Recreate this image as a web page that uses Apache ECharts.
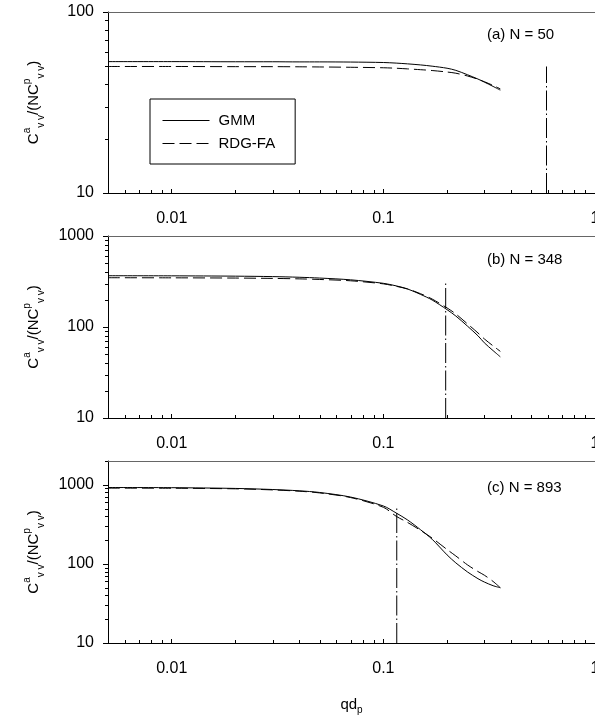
<!DOCTYPE html>
<html>
<head>
<meta charset="utf-8">
<script src="https://cdn.jsdelivr.net/npm/echarts@6/dist/echarts.min.js"></script>
<style>
html,body{margin:0;padding:0;background:#fff;}
#chart{width:595px;height:723px;}
</style>
</head>
<body>
<div id="chart"></div>
<script>
// ---- data ----
const qd = [0.005, 0.01, 0.02, 0.03, 0.04, 0.05, 0.07, 0.1, 0.115, 0.13, 0.15, 0.17, 0.2, 0.22, 0.25, 0.28, 0.3, 0.33, 0.357];

const gmmA = [53.2, 53.2, 53.1, 53.1, 53.0, 53.0, 52.9, 52.6, 52.2, 51.7, 51.0, 50.2, 48.9, 47.6, 45.0, 42.6, 41.0, 38.8, 37.0];
const rdgA = [50.0, 50.0, 49.9, 49.9, 49.8, 49.7, 49.5, 49.2, 48.9, 48.5, 48.0, 47.5, 46.6, 45.9, 44.3, 42.5, 41.2, 39.3, 37.6];

const gmmB = [366, 365, 362, 358, 352, 345, 330, 302, 283, 262, 228, 198, 155, 132, 102, 80, 67, 55, 47];
const rdgB = [348, 347, 345, 342, 338, 333, 322, 298, 280, 262, 232, 203, 162, 139, 108, 86, 74, 62, 54];

const gmmC = [924, 920, 900, 872, 840, 800, 700, 540, 440, 360, 270, 205, 130, 103, 79, 65, 59, 53, 50];
const rdgC = [908, 905, 890, 862, 830, 790, 690, 520, 400, 335, 265, 212, 152, 126, 97, 80, 72, 60, 50];

const panelLabels = ['(a) N = 50', '(b) N = 348', '(c) N = 893'];
const refX = [0.59, 0.197, 0.1157];
const refTop = [50, 305, 506];

const xMin = 0.005, xMax = 1;
const yMins = [10, 10, 10];
const yMaxs = [100, 1000, 2000];

const xMinorTicks = [0.006, 0.007, 0.008, 0.009, 0.02, 0.03, 0.04, 0.05, 0.06, 0.07, 0.08, 0.09, 0.2, 0.3, 0.4, 0.5, 0.6, 0.7, 0.8, 0.9];
const yMinorTicks = [
  [20, 30, 40, 50, 60, 70, 80, 90],
  [20, 30, 40, 50, 60, 70, 80, 90, 200, 300, 400, 500, 600, 700, 800, 900],
  [20, 30, 40, 50, 60, 70, 80, 90, 200, 300, 400, 500, 600, 700, 800, 900, 2000]
];

// ---- layout ----
const FONT = 'Liberation Sans';
const grids = [
  {left: 108, top: 12, width: 487, height: 181, outerBoundsMode: 'none', containLabel: false},
  {left: 108, top: 236, width: 487, height: 182, outerBoundsMode: 'none', containLabel: false},
  {left: 108, top: 461, width: 487, height: 182, outerBoundsMode: 'none', containLabel: false}
];
const gmmSets = [gmmA, gmmB, gmmC];
const rdgSets = [rdgA, rdgB, rdgC];
const labelTops = [27, 252, 480];

const fmt = v => String(+(+v).toPrecision(3));

const yName = '{m|C}{sup|a}{sub|v v}{m|/(NC}{sup|p}{sub|v v}{m|)}';
const richName = {
  m: {fontSize: 15, fontFamily: FONT, color: '#000', lineHeight: 24, verticalAlign: 'middle'},
  sup: {fontSize: 10, fontFamily: FONT, color: '#000', lineHeight: 10, verticalAlign: 'top'},
  sub: {fontSize: 10, fontFamily: FONT, color: '#000', lineHeight: 10, verticalAlign: 'bottom'}
};

const xAxes = [], yAxes = [], series = [], titles = [];
for (let i = 0; i < 3; i++) {
  xAxes.push({
    type: 'log', gridIndex: i, min: xMin, max: xMax, position: 'bottom',
    axisLine: {lineStyle: {color: '#000', width: 1}},
    axisTick: {inside: true, length: 4, lineStyle: {color: '#000'}},
    axisLabel: {showMinLabel: false, color: '#000', fontSize: 16, fontFamily: FONT, margin: 18, formatter: fmt},
    splitLine: {show: false},
    name: i === 2 ? '{m|qd}{sub|p}' : '',
    nameLocation: 'middle', nameGap: 52,
    nameTextStyle: {rich: {
      m: {fontSize: 15, fontFamily: FONT, color: '#000', lineHeight: 20, verticalAlign: 'middle'},
      sub: {fontSize: 10, fontFamily: FONT, color: '#000', lineHeight: 8, verticalAlign: 'bottom'}
    }}
  });
  yAxes.push({
    type: 'log', gridIndex: i, min: yMins[i], max: yMaxs[i],
    axisLine: {show: true, lineStyle: {color: '#000', width: 1}},
    axisTick: {show: true, length: 5, lineStyle: {color: '#000'}},
    axisLabel: {showMaxLabel: i !== 2, color: '#000', fontSize: 16, fontFamily: FONT, margin: 14, formatter: fmt},
    splitLine: {show: false},
    name: yName, nameLocation: 'middle', nameGap: 62, nameRotate: 90,
    nameTextStyle: {rich: richName}
  });
}
for (let i = 0; i < 3; i++) {
  xAxes.push({
    type: 'log', gridIndex: i, min: xMin, max: xMax, position: 'top',
    axisLine: {lineStyle: {color: '#666', width: 1}},
    axisTick: {show: false}, axisLabel: {show: false}, splitLine: {show: false}
  });
}

for (let i = 0; i < 3; i++) {
  series.push({
    name: 'GMM', type: 'line', xAxisIndex: i, yAxisIndex: i, symbol: 'none', smooth: 0.3,
    color: '#000', itemStyle: {color: '#000'},
    lineStyle: {color: '#000', width: 1, type: 'solid'},
    data: qd.map((x, k) => [x, gmmSets[i][k]])
  });
  series.push({
    name: 'RDG-FA', type: 'line', xAxisIndex: i, yAxisIndex: i, symbol: 'none', smooth: 0.3,
    color: '#000', itemStyle: {color: '#000'},
    lineStyle: {color: '#000', width: 1, type: [12, 5]},
    data: qd.map((x, k) => [x, rdgSets[i][k]])
  });
  series.push({
    type: 'line', xAxisIndex: i, yAxisIndex: i, symbol: 'none', silent: true,
    lineStyle: {color: '#000', width: 1, type: [20, 3, 1.5, 3]},
    data: [[refX[i], yMins[i]], [refX[i], refTop[i]]]
  });
  series.push({
    type: 'custom', xAxisIndex: i, yAxisIndex: i, silent: true, clip: false,
    data: xMinorTicks.map(v => [v, yMins[i]]),
    renderItem: (params, api) => {
      const p = api.coord([api.value(0), api.value(1)]);
      const x = Math.round(p[0]) + 0.5;
      return {type: 'line', shape: {x1: x, y1: p[1], x2: x, y2: p[1] - 3}, style: {stroke: '#000', lineWidth: 1}};
    }
  });
  series.push({
    type: 'custom', xAxisIndex: i, yAxisIndex: i, silent: true, clip: false,
    data: yMinorTicks[i].map(v => [xMin, v]),
    renderItem: (params, api) => {
      const p = api.coord([api.value(0), api.value(1)]);
      const y = Math.round(p[1]) + 0.5;
      return {type: 'line', shape: {x1: p[0], y1: y, x2: p[0] - 3, y2: y}, style: {stroke: '#000', lineWidth: 1}};
    }
  });
  titles.push({
    text: panelLabels[i], left: 487, top: labelTops[i], padding: 0,
    textStyle: {fontSize: 15, fontWeight: 'normal', color: '#000', fontFamily: FONT}
  });
}

const chart = echarts.init(document.getElementById('chart'), null, {renderer: 'canvas'});
chart.setOption({
  animation: false,
  backgroundColor: '#fff',
  title: titles,
  grid: grids,
  xAxis: xAxes,
  yAxis: yAxes,
  legend: {
    data: ['GMM', 'RDG-FA'], orient: 'vertical', left: 150, top: 99,
    padding: [14, 20, 13, 12], itemWidth: 47, itemHeight: 14, itemGap: 8,
    borderColor: '#000', borderWidth: 1,
    itemStyle: {opacity: 0},
    lineStyle: {color: '#000', width: 1},
    textStyle: {fontSize: 15, color: '#000', fontFamily: FONT, padding: [0, 0, 0, 4]},
    selectedMode: false
  },
  series: series
});
</script>
</body>
</html>
